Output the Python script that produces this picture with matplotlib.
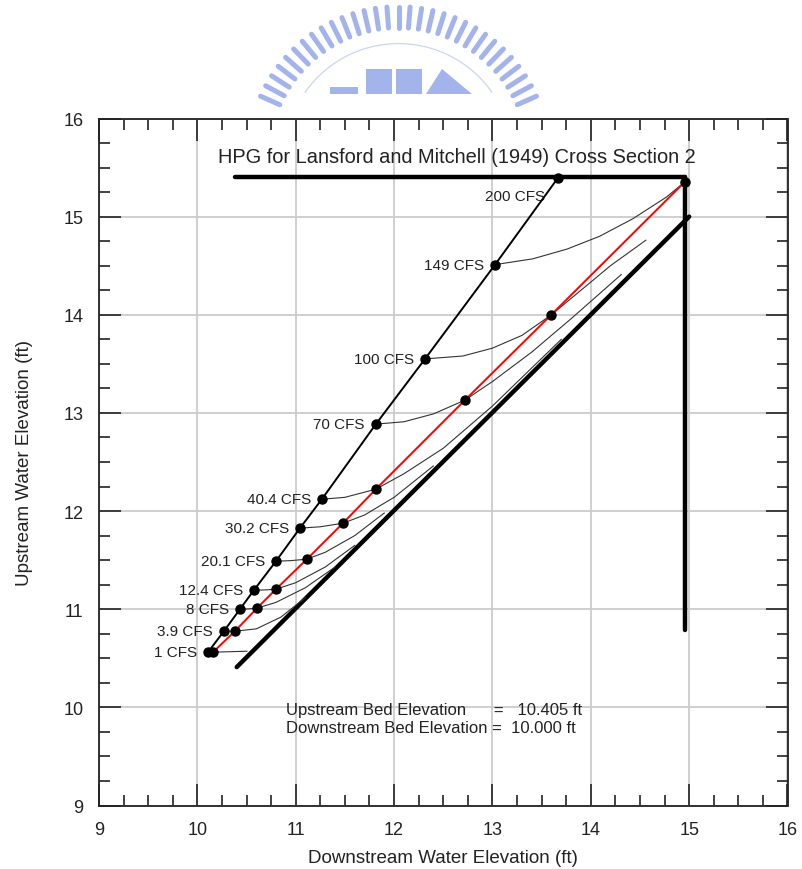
import numpy as np
import matplotlib
matplotlib.use("Agg")
import matplotlib.pyplot as plt
from matplotlib.ticker import MultipleLocator

plt.rcParams['font.family'] = ['Liberation Sans', 'DejaVu Sans']

# flows and their critical (free-flow) points
flows = ["200", "149", "100", "70", "40.4", "30.2", "20.1", "12.4", "8", "3.9", "1"]
crit_x = [13.665, 13.024, 12.313, 11.815, 11.266, 11.043, 10.799, 10.575, 10.433, 10.270, 10.108]
crit_y = [15.393, 14.507, 13.548, 12.886, 12.121, 11.826, 11.489, 11.194, 11.000, 10.776, 10.562]

# red line (transition) points
red_x = [10.159, 10.382, 10.606, 10.799, 11.114, 11.480, 11.815, 12.720, 13.594, 14.955]
red_y = [10.562, 10.776, 11.010, 11.204, 11.510, 11.876, 12.223, 13.130, 13.996, 15.353]

# HPG curves for each flow
curve_x = {
    "149": [13.02, 13.41, 13.76, 14.09, 14.43, 14.77, 14.955],
    "100": [12.31, 12.70, 13.00, 13.30, 13.594, 13.90, 14.20, 14.56],
    "70": [11.815, 12.10, 12.40, 12.72, 13.00, 13.40, 13.80, 14.31],
    "40.4": [11.266, 11.50, 11.815, 12.10, 12.50, 13.00, 13.70],
    "30.2": [11.043, 11.25, 11.48, 11.70, 12.00, 12.40],
    "20.1": [10.799, 10.95, 11.114, 11.30, 11.60, 11.90],
    "12.4": [10.575, 10.70, 10.799, 11.00, 11.30, 11.60],
    "8": [10.433, 10.52, 10.606, 10.80, 11.10, 11.40],
    "3.9": [10.270, 10.382, 10.60, 10.85, 11.10],
    "1": [10.108, 10.159, 10.504],
}
curve_y = {
    "149": [14.51, 14.57, 14.67, 14.80, 14.98, 15.20, 15.353],
    "100": [13.55, 13.58, 13.66, 13.79, 13.996, 14.25, 14.50, 14.76],
    "70": [12.886, 12.91, 12.99, 13.13, 13.32, 13.62, 13.96, 14.41],
    "40.4": [12.121, 12.14, 12.223, 12.38, 12.64, 13.07, 13.75],
    "30.2": [11.826, 11.84, 11.876, 11.96, 12.14, 12.46],
    "20.1": [11.489, 11.495, 11.51, 11.58, 11.75, 11.98],
    "12.4": [11.194, 11.197, 11.204, 11.27, 11.43, 11.65],
    "8": [11.000, 11.003, 11.010, 11.07, 11.22, 11.43],
    "3.9": [10.776, 10.776, 10.80, 10.92, 11.12],
    "1": [10.562, 10.562, 10.572],
}

# bounding lines
top_x = [10.38, 14.96]
top_y = [15.40, 15.40]
vert_x = [14.96, 14.96]
vert_y = [15.40, 10.79]
diag_x = [10.40, 15.00]
diag_y = [10.41, 15.00]

fig = plt.figure(figsize=(8.02, 8.70), dpi=100)

# faint logo watermark above the plot
lg = fig.add_axes([0, 0, 1, 1], zorder=0)
lg.set_xlim(0, 802)
lg.set_ylim(870, 0)
lg.axis("off")
logo_col = "#a3b3ec"
cx, cy, r0, r1 = 398.5, 158.6, 130, 151
for ang in np.arange(24, 157, 4.4):
    a = np.radians(ang)
    xs = [cx + r0 * np.cos(a), cx + r1 * np.cos(a)]
    ys = [cy - r0 * np.sin(a), cy - r1 * np.sin(a)]
    lg.plot(xs, ys, color=logo_col, lw=3.6, solid_capstyle="round")
arc = np.radians(np.linspace(35, 145, 60))
lg.plot(cx + 114 * np.cos(arc), cy - 114 * np.sin(arc), color="#ccd4f2", lw=0.9)
lg.fill([330, 358, 358, 330], [95, 95, 88, 88], color=logo_col, lw=0)
lg.fill([366, 392, 392, 366], [95, 95, 70, 70], color=logo_col, lw=0)
lg.fill([396, 422, 422, 396], [95, 95, 70, 70], color=logo_col, lw=0)
lg.fill([426, 442, 472, 456], [95, 70, 95, 95], color=logo_col, lw=0)
lg.fill([0, 802, 802, 0], [96, 96, 870, 870], color="white", lw=0)

ax = fig.add_axes([99 / 802, 1 - 806.5 / 870, 688.5 / 802, 687 / 870], zorder=1)
ax.set_facecolor("none")
ax.set_xlim(9, 16)
ax.set_ylim(9, 16)
ax.xaxis.set_major_locator(MultipleLocator(1))
ax.yaxis.set_major_locator(MultipleLocator(1))
ax.xaxis.set_minor_locator(MultipleLocator(0.25))
ax.yaxis.set_minor_locator(MultipleLocator(0.25))
ax.tick_params(which="both", direction="in", top=True, right=True, colors="#222222",
               labelsize=13, width=1.2)
ax.tick_params(which="major", length=16, pad=11)
ax.tick_params(which="minor", length=8)
ax.grid(True, which="major", color="#cccccc", lw=1.3)
ax.set_axisbelow(True)
for s in ax.spines.values():
    s.set_color("#222222")
    s.set_linewidth(1.3)

# thick boundary lines
for xs, ys in [(top_x, top_y), (vert_x, vert_y), (diag_x, diag_y)]:
    ax.plot(xs, ys, color="black", lw=3.2, solid_capstyle="round", zorder=3)

# HPG curves
for q in curve_x:
    ax.plot(curve_x[q], curve_y[q], color="#333333", lw=0.8, zorder=4)

# critical line and red line
ax.plot(crit_x, crit_y, color="black", lw=1.4, zorder=5)
ax.plot(red_x, red_y, color="red", lw=1.4, zorder=5)
ax.plot(crit_x, crit_y, "o", color="black", ms=6.5, zorder=6)
ax.plot(red_x, red_y, "o", color="black", ms=6.5, zorder=6)

for q, x, y in zip(flows, crit_x, crit_y):
    off = (-9, -13) if q == "200" else (-8, 0)
    ax.annotate(f"{q} CFS", (x, y), xytext=off, textcoords="offset points",
                ha="right", va="center", fontsize=11, color="#222222")

ax.text(12.64, 15.61, "HPG for Lansford and Mitchell (1949) Cross Section 2",
        ha="center", va="center", fontsize=14.4, color="#222222")
ax.text(10.9, 9.975, "Upstream Bed Elevation      =   10.405 ft", ha="left", va="center",
        fontsize=12, color="#222222")
ax.text(10.9, 9.79, "Downstream Bed Elevation =  10.000 ft", ha="left", va="center",
        fontsize=12, color="#222222")

ax.set_xlabel("Downstream Water Elevation (ft)", fontsize=13.5, color="#222222", labelpad=8)
ax.set_ylabel("Upstream Water Elevation (ft)", fontsize=13.5, color="#222222", labelpad=22)

fig.savefig("out.png", dpi=100)
